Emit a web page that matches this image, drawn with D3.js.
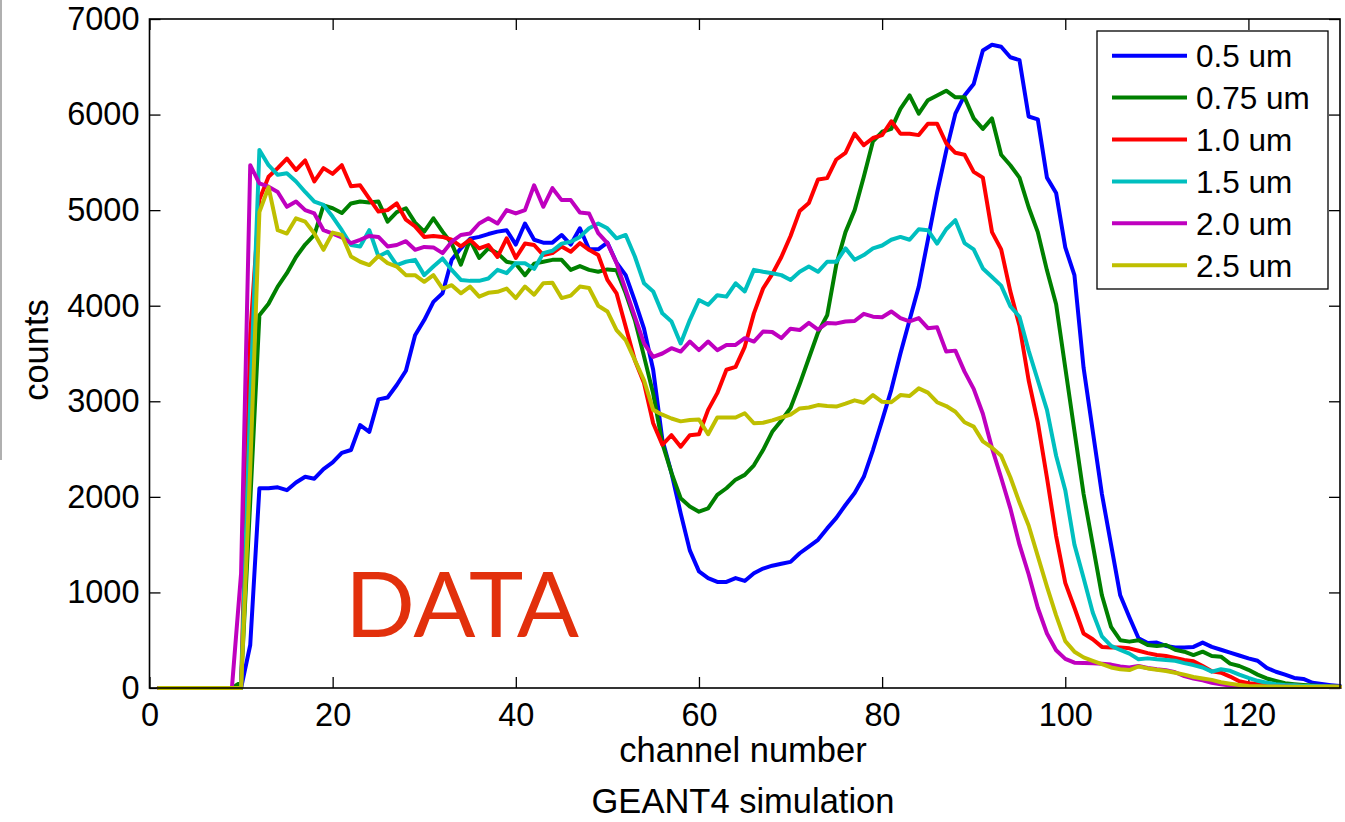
<!DOCTYPE html>
<html>
<head>
<meta charset="utf-8">
<script src="https://cdn.jsdelivr.net/npm/d3@7"></script>
<style>
html,body{margin:0;padding:0;background:#fff;}
svg{display:block;}
</style>
</head>
<body>
<svg id="chart" width="1345" height="822"></svg>
<script>
// ---------------- data ----------------
const channels = d3.range(1, 131);           // channel numbers 1..130
const seriesNames = ["0.5 um", "0.75 um", "1.0 um", "1.5 um", "2.0 um", "2.5 um"];
const seriesColors = ["#0000ff", "#008000", "#ff0000", "#00bfbf", "#bf00bf", "#bfbf00"];
const xTicks = [0, 20, 40, 60, 80, 100, 120];
const yTicks = [0, 1000, 2000, 3000, 4000, 5000, 6000, 7000];

const blue = [
  0,0,0,0,0,0,0,0,0,0,
  450,2090,2090,2100,2070,2150,2210,2190,2290,2360,
  2460,2490,2750,2680,3020,3040,3170,3320,3690,3850,
  4040,4130,4480,4600,4700,4720,4750,4775,4790,4640,
  4860,4690,4660,4660,4740,4640,4810,4590,4590,4660,
  4450,4320,4050,3760,3330,2600,2250,1830,1440,1220,
  1150,1110,1110,1150,1120,1200,1250,1280,1300,1320,
  1410,1480,1550,1670,1780,1915,2040,2210,2490,2800,
  3120,3500,3850,4200,4690,5180,5620,6010,6200,6320,
  6670,6730,6710,6600,6570,5980,5950,5340,5180,4610,
  4320,3350,2690,2030,1500,970,740,520,470,475,
  440,425,425,430,475,430,400,370,340,310,
  285,210,170,140,105,95,55,42,30,20
];
const green = [
  0,0,0,0,0,0,0,0,0,60,
  1950,3900,4020,4200,4340,4510,4640,4740,5050,5020,
  4970,5070,5090,5080,5090,4880,4980,5020,4870,4775,
  4915,4775,4650,4430,4690,4500,4600,4550,4460,4440,
  4320,4440,4460,4480,4480,4375,4415,4375,4355,4380,
  4370,4130,3850,3470,3080,2560,2250,1985,1900,1845,
  1880,2020,2090,2180,2230,2330,2490,2680,2800,2930,
  3180,3450,3720,3900,4430,4770,5000,5350,5720,5820,
  5850,6060,6200,6010,6150,6200,6250,6180,6180,5960,
  5850,5960,5580,5470,5340,5030,4770,4370,4015,3350,
  2690,2030,1500,970,640,500,485,500,450,440,
  450,400,380,345,380,335,328,255,230,190,
  140,100,75,50,40,32,25,20,15,10
];
const red = [
  0,0,0,0,0,0,0,0,0,0,
  3700,5110,5350,5440,5540,5420,5520,5300,5440,5380,
  5470,5250,5260,5120,4985,5000,5070,4900,4830,4720,
  4730,4720,4690,4620,4690,4600,4635,4510,4705,4500,
  4650,4635,4530,4550,4620,4565,4655,4585,4530,4270,
  4130,3780,3430,3190,2770,2545,2645,2525,2645,2655,
  2910,3085,3330,3360,3570,3920,4180,4330,4510,4730,
  4990,5075,5320,5335,5530,5600,5800,5680,5755,5785,
  5930,5800,5800,5785,5905,5905,5700,5600,5580,5400,
  5340,4770,4590,4150,3790,3220,2780,2200,1590,1100,
  840,570,510,430,425,425,415,390,365,345,
  335,315,293,280,230,175,160,120,70,50,
  42,35,30,27,25,22,20,18,15,14
];
const cyan = [
  0,0,0,0,0,0,0,0,0,0,
  3000,5630,5470,5370,5385,5300,5190,5090,5055,4930,
  4790,4635,4620,4790,4515,4565,4425,4460,4480,4320,
  4410,4495,4375,4270,4260,4260,4285,4375,4340,4445,
  4445,4385,4550,4575,4650,4670,4720,4810,4860,4810,
  4705,4740,4515,4235,4150,3920,3835,3605,3850,4060,
  4010,4110,4095,4235,4150,4375,4355,4340,4320,4270,
  4355,4410,4355,4460,4460,4600,4480,4530,4600,4630,
  4690,4720,4690,4800,4790,4650,4800,4895,4655,4590,
  4390,4300,4210,3995,3885,3530,3220,2910,2430,2070,
  1500,1150,790,540,440,398,360,300,310,300,
  293,285,260,240,215,171,196,180,140,105,
  75,55,40,32,28,22,20,18,15,12
];
const magenta = [
  0,0,0,0,0,0,0,0,0,1200,
  5470,5280,5245,5190,5035,5090,5000,4965,4790,4755,
  4715,4655,4690,4730,4720,4620,4635,4675,4585,4615,
  4610,4550,4670,4740,4755,4860,4915,4860,5000,4965,
  5000,5260,5035,5230,5105,5105,4975,4965,4760,4655,
  4445,4165,3885,3605,3465,3500,3555,3520,3625,3535,
  3625,3535,3590,3590,3660,3625,3730,3725,3660,3760,
  3745,3820,3750,3820,3815,3835,3840,3915,3885,3880,
  3940,3870,3835,3870,3765,3775,3520,3530,3310,3130,
  2870,2510,2200,1880,1500,1190,840,570,395,305,
  265,262,258,255,245,225,215,230,210,196,
  185,165,125,100,80,55,38,25,20,15,
  14,13,12,12,11,11,10,10,10,10
];
const yellow = [
  0,0,0,0,0,0,0,0,0,0,
  2300,4980,5240,4790,4755,4915,4880,4755,4585,4765,
  4740,4515,4460,4425,4520,4445,4410,4320,4320,4250,
  4320,4180,4215,4130,4200,4095,4135,4145,4180,4080,
  4200,4115,4235,4240,4080,4105,4200,4185,4000,3940,
  3745,3640,3430,3220,2910,2860,2820,2790,2805,2810,
  2655,2830,2830,2830,2875,2770,2775,2800,2830,2860,
  2925,2935,2960,2950,2945,2975,3010,2985,3065,2995,
  2990,3065,3055,3135,3090,2990,2950,2890,2780,2735,
  2580,2515,2430,2205,1940,1700,1380,1060,760,490,
  380,320,285,250,215,196,188,225,205,190,
  178,160,140,115,100,85,60,45,32,22,
  18,16,15,14,14,13,13,12,12,12
];
const seriesValues = [blue, green, red, cyan, magenta, yellow];

// ---------------- layout ----------------
(function () {
const svg = d3.select("#chart");
const W = 1345, H = 822;
const pL = 149.5, pR = 1340, pT = 19, pB = 688;
const FONT = "'Liberation Sans', Arial, Helvetica, sans-serif";
const fmt = d3.format("d");

svg.append("rect").attr("width", W).attr("height", H).attr("fill", "#fff");
// thin grey strip at the far left edge of the original screenshot
svg.append("rect").attr("x", 0).attr("y", 0).attr("width", 2).attr("height", 460).attr("fill", "#b0b0b0");

const x = d3.scaleLinear().domain([0, 130]).range([pL, pR]);
const y = d3.scaleLinear().domain([0, 7000]).range([pB, pT]);

// axes (MATLAB-like box with inward ticks on all sides)
const tickLen = 11;
const gB = svg.append("g").attr("transform", `translate(0,${pB})`)
  .call(d3.axisBottom(x).tickValues(xTicks).tickFormat(fmt).tickSizeInner(-tickLen).tickSizeOuter(0).tickPadding(15));
const gL = svg.append("g").attr("transform", `translate(${pL},0)`)
  .call(d3.axisLeft(y).tickValues(yTicks).tickFormat(fmt).tickSizeInner(-tickLen).tickSizeOuter(0).tickPadding(10));
const gT = svg.append("g").attr("transform", `translate(0,${pT})`)
  .call(d3.axisTop(x).tickValues(xTicks).tickSizeInner(-tickLen).tickSizeOuter(0).tickFormat(""));
const gR = svg.append("g").attr("transform", `translate(${pR},0)`)
  .call(d3.axisRight(y).tickValues(yTicks).tickSizeInner(-tickLen).tickSizeOuter(0).tickFormat(""));

[gB, gL, gT, gR].forEach(g => {
  g.select(".domain").remove();
  g.selectAll(".tick line").attr("stroke", "#000").attr("stroke-width", 1.3);
  g.selectAll(".tick text").attr("fill", "#000").style("font-family", FONT).style("font-size", "32.5px");
});

// series lines
const line = d3.line().x((d, i) => x(channels[i])).y(d => y(d));
seriesValues.forEach((vals, k) => {
  svg.append("path")
    .datum(vals)
    .attr("d", line)
    .attr("fill", "none")
    .attr("stroke", seriesColors[k])
    .attr("stroke-width", 4)
    .attr("stroke-linejoin", "round")
    .attr("stroke-linecap", "round");
});

// box
svg.append("rect")
  .attr("x", pL).attr("y", pT)
  .attr("width", pR - pL).attr("height", pB - pT)
  .attr("fill", "none").attr("stroke", "#000").attr("stroke-width", 1.6);

// legend
const lg = svg.append("g");
lg.append("rect").attr("x", 1097).attr("y", 31).attr("width", 231).attr("height", 258)
  .attr("fill", "#fff").attr("stroke", "#000").attr("stroke-width", 1.3);
seriesNames.forEach((name, k) => {
  const yy = 55.7 + k * 41.9;
  lg.append("line").attr("x1", 1112).attr("x2", 1187).attr("y1", yy).attr("y2", yy)
    .attr("stroke", seriesColors[k]).attr("stroke-width", 4);
  lg.append("text").attr("x", 1196).attr("y", yy).attr("dy", "0.36em")
    .style("font-family", FONT).style("font-size", "31.5px").attr("fill", "#000").text(name);
});

// axis labels
const LBL = "34.5px";
svg.append("text").attr("x", 743).attr("y", 762).attr("text-anchor", "middle")
  .style("font-family", FONT).style("font-size", LBL).attr("fill", "#000").text("channel number");
svg.append("text").attr("transform", "translate(48,350) rotate(-90)").attr("text-anchor", "middle")
  .style("font-family", FONT).style("font-size", LBL).attr("fill", "#000").text("counts");
svg.append("text").attr("x", 743).attr("y", 813).attr("text-anchor", "middle")
  .style("font-family", FONT).style("font-size", LBL).attr("fill", "#000").text("GEANT4 simulation");

// DATA annotation
svg.append("text").attr("x", 345).attr("y", 637)
  .style("font-family", "Lato, 'Open Sans', sans-serif").style("font-size", "92px")
  .attr("fill", "#e2300c").text("DATA");
})();
</script>
</body>
</html>
